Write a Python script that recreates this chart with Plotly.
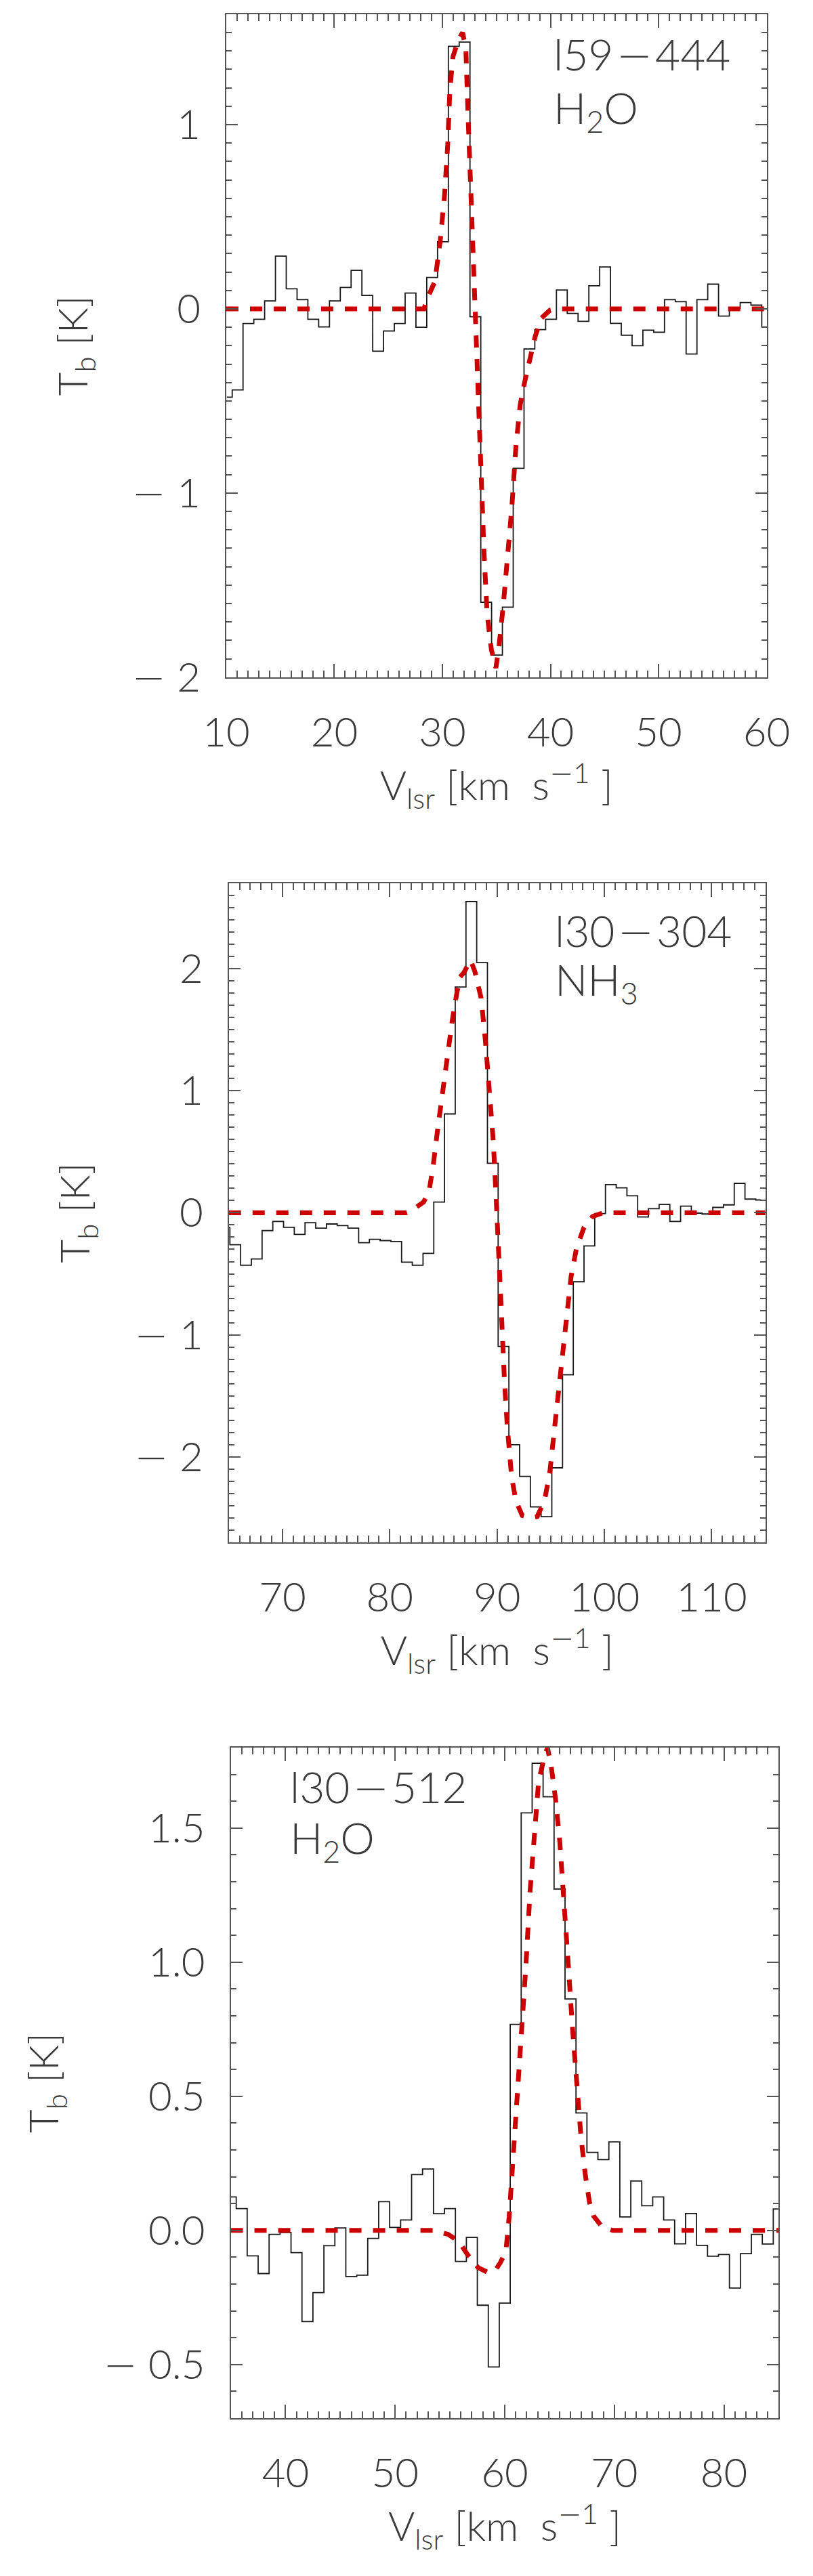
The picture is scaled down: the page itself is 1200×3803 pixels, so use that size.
import plotly.graph_objects as go
from plotly.subplots import make_subplots

# --- l59-444, H2O ---------------------------------------------------------
v_l59 = [10.05, 11.05, 12.05, 13.05, 14.05, 15.05, 16.05, 17.05, 18.05, 19.05,
         20.05, 21.05, 22.05, 23.05, 24.05, 25.05, 26.05, 27.05, 28.05, 29.05,
         30.05, 31.05, 32.05, 33.05, 34.05, 35.05, 36.05, 37.05, 38.05, 39.05,
         40.05, 41.05, 42.05, 43.05, 44.05, 45.05, 46.05, 47.05, 48.05, 49.05,
         50.05, 51.05, 52.05, 53.05, 54.05, 55.05, 56.05, 57.05, 58.05, 59.05, 60.05]
tb_l59 = [-0.48, -0.44, -0.08, -0.057, 0.043, 0.286, 0.109, 0.05, -0.057, -0.098,
          0.043, 0.116, 0.209, 0.073, -0.23, -0.12, -0.08, 0.086, -0.10, 0.17,
          0.364, 1.425, 1.448, -0.043, -1.593, -1.88, -1.62, -0.866, -0.218, -0.113,
          -0.057, 0.102, -0.025, -0.068, 0.125, 0.227, -0.079, -0.143, -0.20, -0.116,
          -0.127, 0.05, 0.039, -0.245, 0.05, 0.134, -0.039, 0.002, 0.034, 0.02, -0.098]
vfit_l59 = [10, 28.3, 28.56, 29.31, 29.8, 30.2, 30.49, 30.69, 30.98, 31.48, 31.87,
            32.17, 32.36, 32.56, 32.85, 33.05, 33.35, 33.54, 33.84, 34.13, 34.53,
            34.95, 35.24, 35.63, 36.02, 36.42, 36.81, 37.2, 37.6, 37.99, 38.58,
            39.17, 39.96, 40.55, 60]
tfit_l59 = [0, 0, 0.05, 0.15, 0.37, 0.62, 0.89, 1.19, 1.37, 1.46, 1.50,
            1.41, 1.07, 0.73, 0.28, -0.06, -0.52, -0.90, -1.31, -1.65, -1.85,
            -1.95, -1.83, -1.61, -1.38, -1.08, -0.74, -0.52, -0.40, -0.29, -0.15,
            -0.05, -0.007, 0, 0]
yt_l59 = [-2, -1, 0, 1]
ylab_l59 = ["\u2212 2", "\u2212 1", "0", "1"]

# --- l30-304, NH3 ---------------------------------------------------------
v_l30n = [64.6, 65.6, 66.6, 67.6, 68.6, 69.6, 70.6, 71.6, 72.6, 73.6,
          74.6, 75.6, 76.6, 77.6, 78.6, 79.6, 80.6, 81.6, 82.6, 83.6,
          84.6, 85.6, 86.6, 87.6, 88.6, 89.6, 90.6, 91.6, 92.6, 93.6,
          94.6, 95.6, 96.6, 97.6, 98.6, 99.6, 100.6, 101.6, 102.6, 103.6,
          104.6, 105.6, 106.6, 107.6, 108.6, 109.6, 110.6, 111.6, 112.6, 113.6, 114.6]
tb_l30n = [-0.12, -0.262, -0.43, -0.378, -0.146, -0.071, -0.119, -0.177, -0.082, -0.126,
           -0.092, -0.105, -0.126, -0.245, -0.218, -0.228, -0.235, -0.405, -0.43, -0.333,
           0.088, 0.81, 1.85, 2.55, 2.05, 0.405, -1.095, -1.90, -2.16, -2.41,
           -2.49, -2.09, -1.327, -0.565, -0.272, -0.007, 0.231, 0.204, 0.139, -0.034,
           0.034, 0.068, -0.071, 0.054, -0.003, -0.01, 0.044, 0.065, 0.241, 0.112, 0.105]
vfit_l30n = [65, 81.5, 81.96, 83.15, 83.65, 84.05, 84.44, 84.94, 85.34, 85.83, 86.23,
             86.53, 86.92, 87.52, 87.92, 88.51, 88.91, 89.31, 89.65, 89.95, 90.2,
             90.45, 90.7, 90.95, 91.35, 91.75, 92.34, 93.13, 93.73, 94.42, 94.92,
             95.42, 95.91, 96.41, 96.9, 97.4, 98.1, 98.89, 99.88, 115]
tfit_l30n = [0, 0, 0.014, 0.088, 0.17, 0.39, 0.67, 1.0, 1.28, 1.58, 1.79,
             1.93, 1.97, 2.07, 1.98, 1.76, 1.41, 1.0, 0.58, 0.05, -0.46,
             -1.0, -1.4, -1.75, -2.16, -2.36, -2.48, -2.50, -2.49, -2.36, -2.12,
             -1.71, -1.34, -0.90, -0.52, -0.29, -0.12, -0.03, 0, 0]
yt_l30n = [-2, -1, 0, 1, 2]
ylab_l30n = ["\u2212 2", "\u2212 1", "0", "1", "2"]

# --- l30-512, H2O ---------------------------------------------------------
v_l30w = [35, 36, 37, 38, 39, 40, 41, 42, 43, 44, 45, 46, 47, 48, 49, 50, 51,
          52, 53, 54, 55, 56, 57, 58, 59, 60, 61, 62, 63, 64, 65, 66, 67, 68,
          69, 70, 71, 72, 73, 74, 75, 76, 77, 78, 79, 80, 81, 82, 83, 84, 85]
tb_l30w = [0.125, 0.081, -0.095, -0.161, -0.015, -0.008, -0.083, -0.34, -0.232, -0.057,
           0.009, -0.172, -0.167, -0.03, 0.107, 0.011, 0.039, 0.208, 0.229, 0.062,
           0.081, -0.116, -0.026, -0.279, -0.509, -0.271, 0.768, 1.557, 1.742, 1.617,
           1.273, 0.863, 0.438, 0.291, 0.264, 0.33, 0.05, 0.184, 0.092, 0.125,
           0.039, -0.05, 0.063, -0.056, -0.096, -0.09, -0.215, -0.087, -0.015, -0.051, 0.08]
vfit_l30w = [35, 53.5, 54.85, 55.83, 56.6, 57.57, 58.54, 59.13, 59.6, 60.1, 60.4,
             60.76, 61.14, 61.53, 61.92, 62.31, 62.69, 63.08, 63.57, 63.9, 64.24,
             64.63, 65.02, 65.41, 65.79, 66.18, 66.57, 66.96, 67.34, 67.73, 68.12,
             68.9, 69.86, 85]
tfit_l30w = [0, 0, -0.015, -0.042, -0.09, -0.139, -0.158, -0.15, -0.12, -0.08, 0.05,
             0.256, 0.48, 0.71, 0.98, 1.265, 1.49, 1.67, 1.76, 1.80, 1.73,
             1.61, 1.45, 1.24, 0.995, 0.754, 0.543, 0.347, 0.211, 0.105, 0.053,
             0.012, 0, 0]
yt_l30w = [-0.5, 0.0, 0.5, 1.0, 1.5]
ylab_l30w = ["\u2212 0.5", "0.0", "0.5", "1.0", "1.5"]

W, H = 1200, 3803
FONT = "Lato"
TXT = "#3a3a3a"
AX = "#555555"
RED = "#cc0000"
# wide, thin minus like the original plotting font
MINUS = '<span style="font-family:DejaVu Sans;font-weight:200">\u2212</span>'


def wide_minus(s):
    return s.replace("\u2212", MINUS)


panels = [
    dict(v=v_l59, t=tb_l59, vf=vfit_l59, tf=tfit_l59, xr=[10, 60], yr=[-2, 1.6],
         yt=yt_l59, yl=ylab_l59, box=(309, 13, 1156, 1001),
         src="l59\u200a\u2212\u200a444", mol="H<sub>2</sub>O", lab=(820, 73, 156)),
    dict(v=v_l30n, t=tb_l30n, vf=vfit_l30n, tf=tfit_l30n, xr=[65, 115], yr=[-2.7, 2.7],
         yt=yt_l30n, yl=ylab_l30n, box=(313, 1308, 1154, 2290),
         src="l30\u200a\u2212\u200a304", mol="NH<sub>3</sub>", lab=(822, 1379, 1455)),
    dict(v=v_l30w, t=tb_l30w, vf=vfit_l30w, tf=tfit_l30w, xr=[35, 85], yr=[-0.7, 1.8],
         yt=yt_l30w, yl=ylab_l30w, box=(316, 2596, 1175, 3595),
         src="l30\u200a\u2212\u200a512", mol="H<sub>2</sub>O", lab=(407, 2654, 2734)),
]

fig = make_subplots(rows=3, cols=1)
annotations = []

for i, p in enumerate(panels, start=1):
    x0, y0, x1, y1 = p["box"]
    fig.add_trace(go.Scatter(x=p["v"], y=p["t"], mode="lines",
                             line=dict(color="#1a1a1a", width=1.8, shape="hvh"),
                             showlegend=False), row=i, col=1)
    fig.add_trace(go.Scatter(x=p["vf"], y=p["tf"], mode="lines",
                             line=dict(color=RED, width=7, dash="18px,17px"),
                             showlegend=False), row=i, col=1)

    fig.update_xaxes(row=i, col=1, domain=[x0 / W, x1 / W], range=p["xr"],
                     dtick=10, tick0=0, ticks="inside", ticklen=20, tickwidth=1.5,
                     tickcolor=AX, showline=True, linecolor=AX, linewidth=2,
                     mirror="allticks", showgrid=False, zeroline=False,
                     minor=dict(dtick=1, ticks="inside", ticklen=10, tickcolor=AX,
                                tickwidth=1.5, showgrid=False),
                     tickfont=dict(family=FONT, size=60, color=TXT, weight=300),
                     ticklabelstandoff=28,
                     title=dict(text=wide_minus("V<sub>lsr</sub> [km  s<sup>\u22121</sup> ]"),
                                font=dict(family=FONT, size=60, color=TXT, weight=300),
                                standoff=14))
    fig.update_yaxes(row=i, col=1, domain=[1 - y1 / H, 1 - y0 / H], range=p["yr"],
                     tickmode="array", tickvals=p["yt"],
                     ticktext=[wide_minus(s) for s in p["yl"]],
                     ticks="inside", ticklen=17, tickwidth=1.5, tickcolor=AX,
                     showline=True, linecolor=AX, linewidth=2, mirror="allticks",
                     showgrid=False, zeroline=False,
                     minor=dict(dtick=0.1, tick0=0, ticks="inside", ticklen=8,
                                tickcolor=AX, tickwidth=1.5, showgrid=False),
                     tickfont=dict(family=FONT, size=60, color=TXT, weight=300),
                     ticklabelstandoff=24,
                     title=dict(text="T<sub>b</sub> [K]",
                                font=dict(family=FONT, size=60, color=TXT, weight=300),
                                standoff=46))

    lx, ly1, ly2 = p["lab"]
    for txt, ly in ((p["src"], ly1), (p["mol"], ly2)):
        annotations.append(dict(text=wide_minus(txt), xref="paper", yref="paper",
                                x=lx / W, y=1 - ly / H, xanchor="left",
                                yanchor="middle", showarrow=False, height=70,
                                font=dict(family=FONT, size=64, color=TXT, weight=300)))

fig.update_layout(width=W, height=H, margin=dict(l=0, r=0, t=0, b=0),
                  paper_bgcolor="white", plot_bgcolor="white",
                  annotations=annotations)

fig.write_html("out.html")
